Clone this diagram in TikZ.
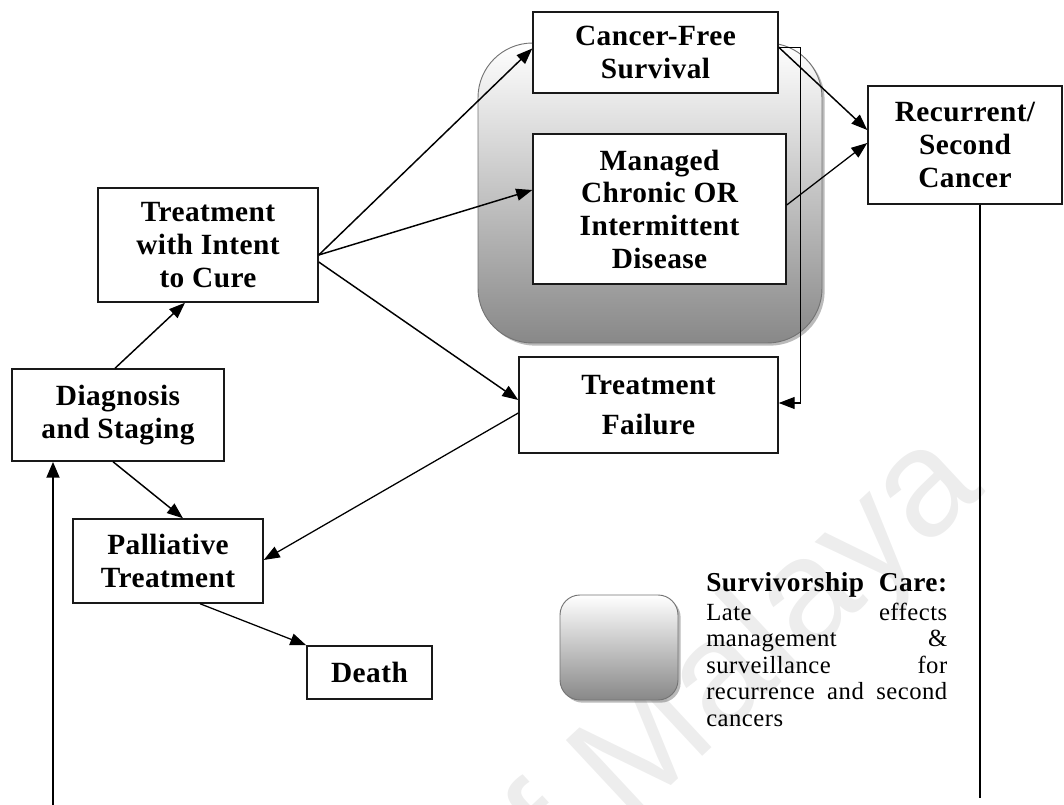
\documentclass[tikz,border=0pt]{standalone}
\usepackage{fontspec}
\setmainfont{Liberation Serif}
\newfontfamily\wmfont{Liberation Sans}
\usetikzlibrary{arrows.meta,calc,shadows}

\definecolor{caremid}{HTML}{D4D4D4}
\definecolor{carebot}{HTML}{888888}

\begin{document}
\begin{tikzpicture}[x=0.75pt,y=-0.75pt,
  stage/.style={draw=black!90, line width=1.1pt, fill=white, align=center, inner sep=0pt,
    font=\bfseries\fontsize{22}{24.5}\selectfont\addfontfeatures{LetterSpace=1.5}},
  care/.style={draw=black!55, line width=0.7pt, top color=white, middle color=caremid,
    bottom color=carebot,
    drop shadow={shadow xshift=2pt, shadow yshift=-2pt, opacity=0.45, fill=black!60}},
  flow/.style={line width=1.1pt, -{Triangle[length=12pt,width=9pt]}},
  thinflow/.style={line width=0.95pt, -{Triangle[length=12pt,width=9pt]}},
  trunk/.style={line width=2.2pt}]

\useasboundingbox (0,0) rectangle (1064,805);

% faint watermark
\begin{scope}
  \clip (0,0) rectangle (1064,805);
  \node[rotate=43, anchor=base west, inner sep=0pt, text=black!7,
        font=\wmfont\fontsize{114}{114}\selectfont] (wm) at (628,826)
        {\llap{of }Malaya};
\end{scope}

% survivorship-care region behind the two outcome boxes
\path[care, rounded corners=41pt] (478,43) rectangle (822,343);

% stages
\node[stage, minimum width=159pt,   minimum height=69pt]   (diag)  at (118,415)   {Diagnosis\\and Staging};
\node[stage, minimum width=165pt,   minimum height=85.5pt] (treat) at (208,245)   {Treatment\\with Intent\\to Cure};
\node[stage, minimum width=142.5pt, minimum height=63pt]   (pall)  at (168,561)   {Palliative\\Treatment};
\node[stage, minimum width=93.75pt, minimum height=39.75pt](death) at (369.5,672.5){Death};
\node[stage, minimum width=183.75pt,minimum height=60.75pt](cfs)   at (655.5,52.5){Cancer-Free\\Survival};
\node[stage, minimum width=189.75pt,minimum height=112.5pt](mcd)   at (659.5,209) {Managed\\Chronic OR\\Intermittent\\Disease};
\node[stage, minimum width=194.25pt,minimum height=72pt]   (fail)  at (648.5,405) {Treatment\\[6pt]Failure};
\node[stage, minimum width=145.5pt, minimum height=88.5pt] (rec)   at (965,145)   {Recurrent/\\Second\\Cancer};

% connectors
\draw[flow] ($(diag.north)+(-3,0)$) -- ($(treat.south)+(-23,0)$);
\draw[flow] ($(treat.east)+(0,10)$) -- ($(cfs.west)+(0,-4)$);
\draw[flow] ($(treat.east)+(0,10)$) -- ($(mcd.west)+(0,-19)$);
\draw[flow] ($(treat.east)+(0,17)$) -- ($(fail.west)+(0,-5)$);
\draw[flow] ($(diag.south)+(-5,0)$) -- ($(pall.north)+(15,0)$);
\draw[thinflow] ($(fail.west)+(0,8)$) -- ($(pall.east)+(0,-1)$);
\draw[thinflow] ($(pall.south)+(32,0)$) -- (death.north west);
\draw[flow] ($(cfs.north east)+(0,36)$) -- ($(rec.west)+(0,-15)$);
\draw[thinflow] ($(mcd.east)+(0,-4)$) -- ($(rec.west)+(0,-2)$);
\draw[thinflow] ($(cfs.north east)+(0,36)$) -| ($(fail.east)+(22,-2)$) -- ($(fail.east)+(0,-2)$);

% long return lines
\coordinate (leftfoot) at (53,805);
\coordinate (rightfoot) at (980,798);
\draw[trunk, -{Triangle[length=12pt,width=9.5pt]}] (leftfoot) -- ($(diag.south)+(-65,0)$);
\draw[trunk] ($(rec.south)+(15,0)$) -- (rightfoot);

% legend
\path[care, rounded corners=15pt] (560,595) rectangle (678,700);
\node[anchor=base west, inner sep=0pt] (caretext) at (706,591) {\parbox[t]{180.75pt}{%
  {\bfseries\fontsize{20.5}{22}\selectfont\addfontfeatures{LetterSpace=2}Survivorship\hfill Care:\par}%
  \vspace{2pt}%
  {\fontsize{18.5}{19.9}\selectfont\addfontfeatures{LetterSpace=2}%
  Late\hfill effects\\
  management\hfill\&\\
  surveillance\hfill for\\
  recurrence\hfill and\hfill second\\
  cancers\par}}};

\end{tikzpicture}
\end{document}
